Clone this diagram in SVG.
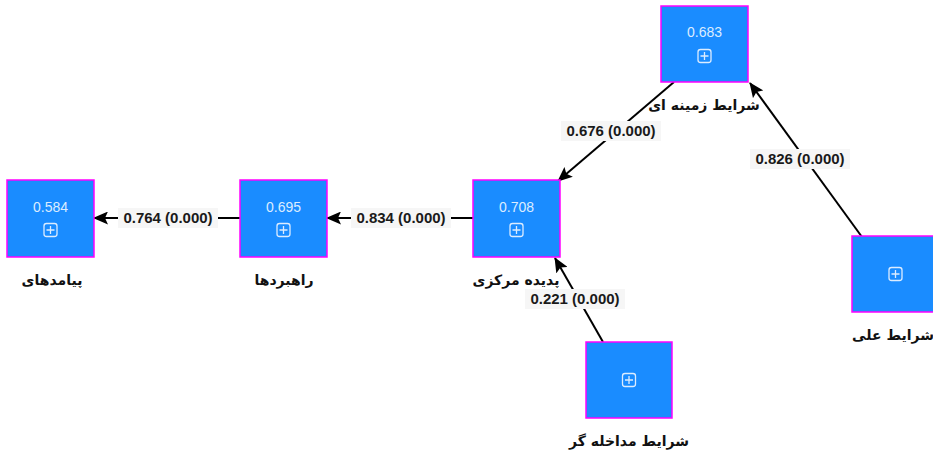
<svg xmlns="http://www.w3.org/2000/svg" width="933" height="456" viewBox="0 0 933 456">
  <style>
    .box { fill: #1a8cff; stroke: #ff00ff; stroke-width: 1.5; }
    .val { font-family: "Liberation Sans", Arial, sans-serif; font-size: 14px; fill: #dcecff; text-anchor: middle; }
    .icon { fill: none; stroke: #dcecff; stroke-width: 1.3; }
    .name { font-family: "DejaVu Sans", "Noto Sans", sans-serif; font-size: 14px; font-weight: bold; fill: #111; text-anchor: middle; direction: rtl; }
    .edge { stroke: #000; stroke-width: 2; fill: none; marker-end: url(#arrow); }
    .lbg { fill: #f6f6f6; }
    .lbl { font-family: "Liberation Sans", Arial, sans-serif; font-size: 15px; font-weight: bold; fill: #1a1a1a; text-anchor: middle; }
  </style>
  <defs>
    <marker id="arrow" viewBox="0 0 15 13" refX="14" refY="6.5" markerWidth="15" markerHeight="13" markerUnits="userSpaceOnUse" orient="auto">
      <path d="M0,0 L15,6.5 L0,13 L3,6.5 Z" fill="#000"/>
    </marker>
    <g id="plus">
      <rect x="-6.5" y="-6.5" width="13" height="13" rx="2.5" class="icon"/>
      <path d="M-4,0 H4 M0,-4 V4" class="icon"/>
    </g>
  </defs>

  <rect width="933" height="456" fill="#fff"/>

  <!-- connectors -->
  <g id="connectors">
    <line class="edge" x1="240" y1="218" x2="94" y2="218"/>
    <line class="edge" x1="473" y1="218" x2="327" y2="218"/>
    <line class="edge" x1="674" y1="82" x2="558" y2="181"/>
    <line class="edge" x1="862" y1="237" x2="750" y2="83"/>
    <line class="edge" x1="603" y1="342" x2="555" y2="258"/>

    <rect class="lbg" x="118" y="208" width="100" height="20"/>
    <text class="lbl" x="168" y="223">0.764 (0.000)</text>
    <rect class="lbg" x="351" y="208" width="100" height="20"/>
    <text class="lbl" x="401" y="223">0.834 (0.000)</text>
    <rect class="lbg" x="561" y="121" width="100" height="20"/>
    <text class="lbl" x="611" y="136">0.676 (0.000)</text>
    <rect class="lbg" x="750" y="149" width="100" height="20"/>
    <text class="lbl" x="800" y="164">0.826 (0.000)</text>
    <rect class="lbg" x="525" y="289" width="100" height="20"/>
    <text class="lbl" x="575" y="304">0.221 (0.000)</text>
  </g>

  <!-- nodes -->
  <g id="node-outcomes">
    <rect class="box" x="7" y="180" width="87" height="77"/>
    <text class="val" x="50.5" y="212">0.584</text>
    <use href="#plus" x="50.5" y="230"/>
    <text class="name" x="52" y="285">پیامدهای</text>
  </g>

  <g id="node-strategies">
    <rect class="box" x="240" y="180" width="87" height="77"/>
    <text class="val" x="283.5" y="212">0.695</text>
    <use href="#plus" x="283.5" y="230"/>
    <text class="name" x="284" y="285">راهبردها</text>
  </g>

  <g id="node-core">
    <rect class="box" x="473" y="180" width="87" height="77"/>
    <text class="val" x="516.5" y="212">0.708</text>
    <use href="#plus" x="516.5" y="230"/>
    <text class="name" x="516" y="285">پدیده مرکزی</text>
  </g>

  <g id="node-context">
    <rect class="box" x="661" y="6" width="87" height="76"/>
    <text class="val" x="704.5" y="37">0.683</text>
    <use href="#plus" x="704.5" y="56"/>
    <text class="name" x="704" y="110">شرایط زمینه ای</text>
  </g>

  <g id="node-causal">
    <rect class="box" x="852" y="236" width="87" height="76"/>
    <use href="#plus" x="895.5" y="274"/>
    <text class="name" x="893" y="340">شرایط علی</text>
  </g>

  <g id="node-intervening">
    <rect class="box" x="586" y="342" width="86" height="76"/>
    <use href="#plus" x="629" y="380"/>
    <text class="name" x="629" y="446">شرایط مداخله گر</text>
  </g>
</svg>
